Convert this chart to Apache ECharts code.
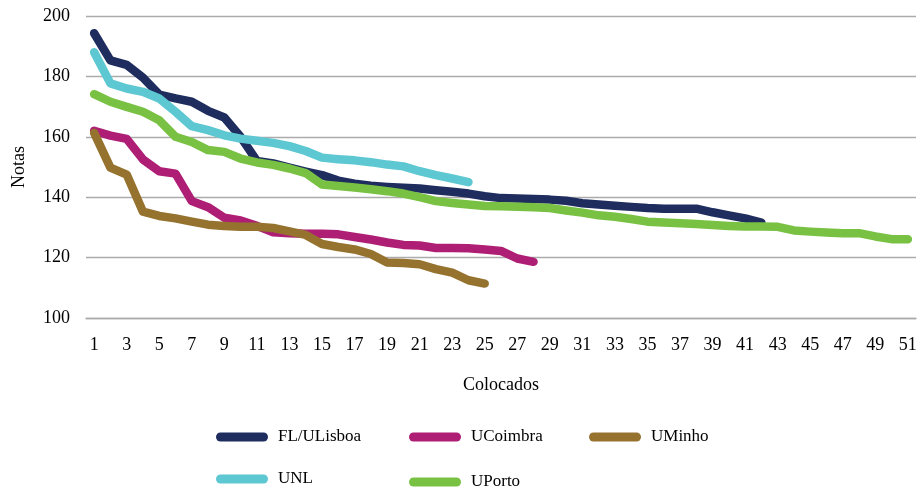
<!DOCTYPE html>
<html>
<head>
<meta charset="utf-8">
<script src="https://cdn.jsdelivr.net/npm/echarts@6/dist/echarts.min.js"></script>
<style>html,body{margin:0;padding:0;background:#fff}#c{width:920px;height:498px}</style>
</head>
<body>
<div id="c"></div>
<script>
const categories = Array.from({length: 51}, (_, i) => String(i + 1));
const seriesNames = ['FL/ULisboa', 'UCoimbra', 'UMinho', 'UNL', 'UPorto'];
const flulisboa = [194.3, 185.3, 183.8, 179.6, 174.0, 172.7, 171.6, 168.6, 166.4, 160.0,
  152.0, 151.2, 149.8, 148.5, 147.3, 145.5, 144.5, 143.8, 143.4, 143.1,
  142.9, 142.3, 141.8, 141.2, 140.3, 139.7, 139.6, 139.4, 139.2, 138.8,
  138.0, 137.6, 137.2, 136.8, 136.4, 136.2, 136.2, 136.2, 135.0, 134.0,
  133.0, 131.6];
const ucoimbra = [162.0, 160.4, 159.3, 152.5, 148.6, 147.8, 138.7, 136.7, 133.2, 132.3,
  130.5, 128.4, 128.1, 127.9, 127.9, 127.7, 126.8, 126.0, 125.0, 124.2,
  124.0, 123.2, 123.2, 123.1, 122.7, 122.2, 119.7, 118.6];
const uminho = [161.3, 149.8, 147.5, 135.2, 133.8, 133.0, 131.9, 130.9, 130.5, 130.2,
  130.2, 129.8, 128.7, 127.5, 124.5, 123.5, 122.7, 121.2, 118.4, 118.2,
  117.8, 116.2, 115.0, 112.5, 111.4];
const unl = [188.0, 177.7, 176.0, 174.9, 172.7, 168.3, 163.5, 162.2, 160.5, 159.4,
  158.7, 158.0, 156.9, 155.3, 153.1, 152.6, 152.2, 151.6, 150.8, 150.2,
  148.6, 147.3, 146.2, 145.0];
const uporto = [174.1, 171.6, 169.9, 168.3, 165.5, 160.0, 158.3, 155.6, 155.0, 152.8,
  151.5, 150.7, 149.5, 148.0, 144.2, 143.7, 143.2, 142.6, 142.0, 141.2,
  140.0, 138.7, 138.1, 137.6, 137.1, 137.0, 136.8, 136.7, 136.4, 135.6,
  134.9, 134.0, 133.5, 132.8, 131.9, 131.6, 131.4, 131.1, 130.8, 130.5,
  130.3, 130.3, 130.2, 129.0, 128.6, 128.3, 128.1, 128.1, 127.0, 126.1, 126.1];
const seriesValues = [flulisboa, ucoimbra, uminho, unl, uporto];
const colors = ['#1e2c5e', '#ae1e74', '#95722e', '#5dc7d2', '#79c143'];
const yTicks = [100, 120, 140, 160, 180, 200];

const FONT = '"Liberation Serif", "Times New Roman", serif';
const pillIcon = 'path://M4.5,0H47.5A4.5,4.5,0,0,1,47.5,9H4.5A4.5,4.5,0,0,1,4.5,0Z';
const legendPos = [
  {left: 216, top: 427},
  {left: 409, top: 427},
  {left: 589, top: 427},
  {left: 216, top: 469},
  {left: 409, top: 472}
];

const chart = echarts.init(document.getElementById('c'), null, {renderer: 'canvas'});
chart.setOption({
  animation: false,
  backgroundColor: '#ffffff',
  color: colors,
  grid: {left: 86, right: 4, top: 16, bottom: 180, containLabel: false},
  xAxis: {
    type: 'category',
    data: categories,
    boundaryGap: true,
    name: 'Colocados',
    nameLocation: 'middle',
    nameGap: 58,
    nameTextStyle: {fontFamily: FONT, fontSize: 18, color: '#000'},
    axisLine: {show: true, lineStyle: {color: '#ababab', width: 1.3}},
    axisTick: {show: false},
    axisLabel: {interval: 1, fontFamily: FONT, fontSize: 18, color: '#000', margin: 18},
    splitLine: {show: false}
  },
  yAxis: {
    type: 'value',
    min: yTicks[0],
    max: yTicks[yTicks.length - 1],
    interval: 20,
    name: 'Notas',
    nameLocation: 'middle',
    nameGap: 58,
    nameRotate: 90,
    nameTextStyle: {fontFamily: FONT, fontSize: 18, color: '#000'},
    axisLine: {show: false},
    axisTick: {show: false},
    axisLabel: {fontFamily: FONT, fontSize: 18, color: '#000', margin: 16},
    splitLine: {show: true, lineStyle: {color: '#ababab', width: 1.3}}
  },
  legend: seriesNames.map((n, i) => ({
    data: [{name: n, icon: pillIcon}],
    left: legendPos[i].left,
    top: legendPos[i].top,
    padding: 0,
    itemWidth: 52,
    itemHeight: 9,
    textStyle: {fontFamily: FONT, fontSize: 17, color: '#000', lineHeight: 20, padding: [0, 0, 0, 5]}
  })),
  series: seriesNames.map((n, i) => ({
    name: n,
    type: 'line',
    data: seriesValues[i],
    symbol: 'none',
    showSymbol: false,
    lineStyle: {width: 8.5, color: colors[i], cap: 'round', join: 'round'},
    itemStyle: {color: colors[i]},
    emphasis: {disabled: true}
  }))
});
</script>
</body>
</html>
